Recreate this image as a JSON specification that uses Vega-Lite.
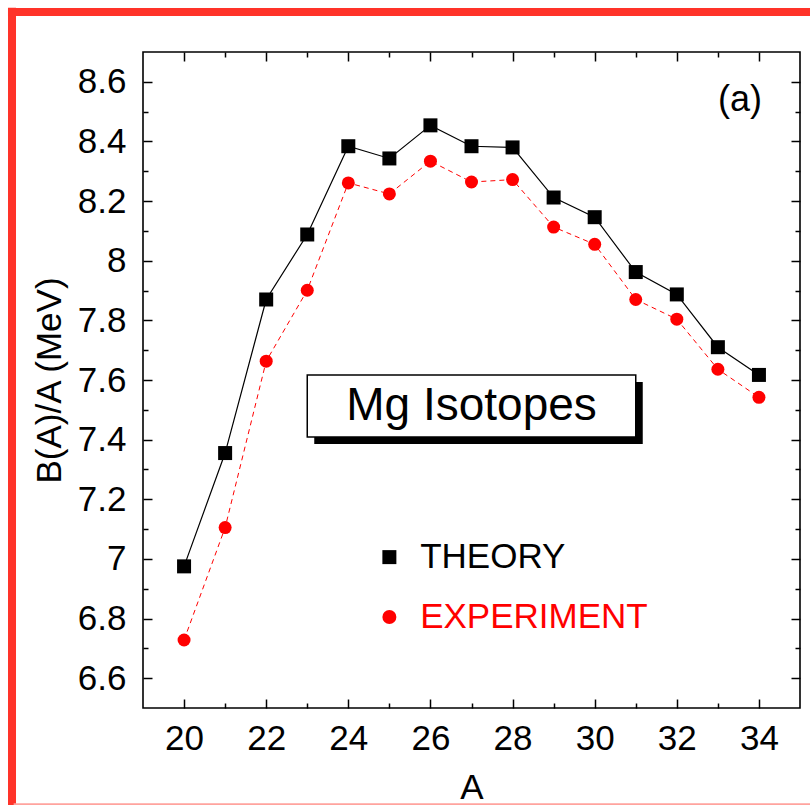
{
  "$schema": "https://vega.github.io/schema/vega-lite/v6.json",
  "width": 657,
  "height": 656,
  "autosize": {"type": "none"},
  "padding": {"left": 143, "top": 52, "right": 10, "bottom": 97},
  "background": "white",
  "config": {
    "view": {"stroke": "black", "strokeWidth": 1.6},
    "font": "Liberation Sans",
    "axis": {
      "domain": false,
      "grid": false,
      "tickColor": "black",
      "tickWidth": 1.5,
      "labelFont": "Liberation Sans",
      "labelFontSize": 35,
      "labelColor": "black",
      "titleFont": "Liberation Sans",
      "titleFontSize": 35,
      "titleFontWeight": "normal",
      "titleColor": "black"
    }
  },
  "data": {
    "values": [
      {"A": 20, "theory": 6.975, "experiment": 6.728},
      {"A": 21, "theory": 7.355, "experiment": 7.105},
      {"A": 22, "theory": 7.870, "experiment": 7.663},
      {"A": 23, "theory": 8.088, "experiment": 7.901},
      {"A": 24, "theory": 8.384, "experiment": 8.261},
      {"A": 25, "theory": 8.343, "experiment": 8.224},
      {"A": 26, "theory": 8.454, "experiment": 8.334},
      {"A": 27, "theory": 8.384, "experiment": 8.264},
      {"A": 28, "theory": 8.380, "experiment": 8.272},
      {"A": 29, "theory": 8.212, "experiment": 8.113},
      {"A": 30, "theory": 8.146, "experiment": 8.055},
      {"A": 31, "theory": 7.962, "experiment": 7.870},
      {"A": 32, "theory": 7.887, "experiment": 7.804},
      {"A": 33, "theory": 7.710, "experiment": 7.636},
      {"A": 34, "theory": 7.617, "experiment": 7.542}
    ]
  },
  "resolve": {
    "scale": {"x": "shared", "y": "shared"},
    "axis": {"x": "independent", "y": "independent"}
  },
  "layer": [
    {
      "mark": {"type": "line", "color": "black", "strokeWidth": 1.2},
      "encoding": {
        "x": {
          "field": "A", "type": "quantitative",
          "scale": {"domain": [19, 35], "nice": false, "zero": false},
          "axis": {"orient": "bottom", "values": [20, 22, 24, 26, 28, 30, 32, 34], "tickSize": -9, "labelPadding": 22, "title": "A", "titlePadding": 14, "format": "~g"}
        },
        "y": {
          "field": "theory", "type": "quantitative",
          "scale": {"domain": [6.5, 8.7], "nice": false, "zero": false},
          "axis": {"orient": "left", "values": [6.6, 6.8, 7, 7.2, 7.4, 7.6, 7.8, 8, 8.2, 8.4, 8.6], "tickSize": -9, "labelPadding": 26, "title": "B(A)/A (MeV)", "titlePadding": 10, "format": "~g"}
        }
      }
    },
    {
      "mark": {"type": "point", "shape": "square", "filled": true, "opacity": 1, "size": 196, "color": "black"},
      "encoding": {
        "x": {
          "field": "A", "type": "quantitative",
          "axis": {"orient": "bottom", "values": [21, 23, 25, 27, 29, 31, 33], "tickSize": -5, "labels": false, "title": null}
        },
        "y": {
          "field": "theory", "type": "quantitative",
          "axis": {"orient": "left", "values": [6.7, 6.9, 7.1, 7.3, 7.5, 7.7, 7.9, 8.1, 8.3, 8.5], "tickSize": -5, "labels": false, "title": null}
        }
      }
    },
    {
      "mark": {"type": "line", "color": "#ff0000", "strokeWidth": 1, "strokeDash": [5, 4]},
      "encoding": {
        "x": {
          "field": "A", "type": "quantitative",
          "axis": {"orient": "top", "values": [20, 22, 24, 26, 28, 30, 32, 34], "tickSize": -9, "labels": false, "title": null}
        },
        "y": {
          "field": "experiment", "type": "quantitative",
          "axis": {"orient": "right", "values": [6.6, 6.8, 7, 7.2, 7.4, 7.6, 7.8, 8, 8.2, 8.4, 8.6], "tickSize": -9, "labels": false, "title": null}
        }
      }
    },
    {
      "mark": {"type": "point", "shape": "circle", "filled": true, "opacity": 1, "size": 169, "color": "#ff0000"},
      "encoding": {
        "x": {
          "field": "A", "type": "quantitative",
          "axis": {"orient": "top", "values": [21, 23, 25, 27, 29, 31, 33], "tickSize": -5, "labels": false, "title": null}
        },
        "y": {
          "field": "experiment", "type": "quantitative",
          "axis": {"orient": "right", "values": [6.7, 6.9, 7.1, 7.3, 7.5, 7.7, 7.9, 8.1, 8.3, 8.5], "tickSize": -5, "labels": false, "title": null}
        }
      }
    },
    {
      "data": {"values": [{}]},
      "mark": {"type": "rect", "fill": "black", "xOffset": 7, "x2Offset": 7, "yOffset": 7, "y2Offset": 7},
      "encoding": {
        "x": {"datum": 23.0, "type": "quantitative", "axis": null},
        "x2": {"datum": 31.0},
        "y": {"datum": 7.617, "type": "quantitative", "axis": null},
        "y2": {"datum": 7.409}
      }
    },
    {
      "data": {"values": [{}]},
      "mark": {"type": "rect", "fill": "white", "stroke": "black", "strokeWidth": 1.5},
      "encoding": {
        "x": {"datum": 23.0, "type": "quantitative", "axis": null},
        "x2": {"datum": 31.0},
        "y": {"datum": 7.617, "type": "quantitative", "axis": null},
        "y2": {"datum": 7.409}
      }
    },
    {
      "data": {"values": [{"label": "Mg Isotopes"}]},
      "mark": {"type": "text", "fontSize": 46, "font": "Liberation Sans", "color": "black", "align": "center", "baseline": "middle"},
      "encoding": {
        "x": {"datum": 27.0, "type": "quantitative", "axis": null},
        "y": {"datum": 7.513, "type": "quantitative", "axis": null},
        "text": {"field": "label"}
      }
    },
    {
      "data": {"values": [{"label": "(a)"}]},
      "mark": {"type": "text", "fontSize": 36, "font": "Liberation Sans", "color": "black", "align": "center", "baseline": "middle"},
      "encoding": {
        "x": {"datum": 33.54, "type": "quantitative", "axis": null},
        "y": {"datum": 8.539, "type": "quantitative", "axis": null},
        "text": {"field": "label"}
      }
    },
    {
      "data": {"values": [{}]},
      "mark": {"type": "point", "shape": "square", "filled": true, "opacity": 1, "size": 196, "color": "black"},
      "encoding": {
        "x": {"datum": 25.0, "type": "quantitative", "axis": null},
        "y": {"datum": 7.006, "type": "quantitative", "axis": null}
      }
    },
    {
      "data": {"values": [{}]},
      "mark": {"type": "point", "shape": "circle", "filled": true, "opacity": 1, "size": 196, "color": "#ff0000"},
      "encoding": {
        "x": {"datum": 25.0, "type": "quantitative", "axis": null},
        "y": {"datum": 6.805, "type": "quantitative", "axis": null}
      }
    },
    {
      "data": {"values": [{"label": "THEORY"}]},
      "mark": {"type": "text", "fontSize": 35, "font": "Liberation Sans", "color": "black", "align": "left", "baseline": "middle"},
      "encoding": {
        "x": {"datum": 25.75, "type": "quantitative", "axis": null},
        "y": {"datum": 7.006, "type": "quantitative", "axis": null},
        "text": {"field": "label"}
      }
    },
    {
      "data": {"values": [{"label": "EXPERIMENT"}]},
      "mark": {"type": "text", "fontSize": 35, "font": "Liberation Sans", "color": "#ff0000", "align": "left", "baseline": "middle"},
      "encoding": {
        "x": {"datum": 25.75, "type": "quantitative", "axis": null},
        "y": {"datum": 6.805, "type": "quantitative", "axis": null},
        "text": {"field": "label"}
      }
    },
    {
      "data": {"values": [{}]},
      "mark": {"type": "rule", "color": "#ff3329", "strokeWidth": 8},
      "encoding": {
        "x": {"datum": 15.81, "type": "quantitative", "axis": null},
        "y": {"datum": 8.848, "type": "quantitative", "axis": null},
        "y2": {"datum": 6.17}
      }
    },
    {
      "data": {"values": [{}]},
      "mark": {"type": "rule", "color": "#ff3329", "strokeWidth": 8},
      "encoding": {
        "x": {"datum": 15.712, "type": "quantitative", "axis": null},
        "x2": {"datum": 35.3},
        "y": {"datum": 8.834, "type": "quantitative", "axis": null}
      }
    },
    {
      "data": {"values": [{}]},
      "mark": {"type": "rule", "color": "#ffa39e", "strokeWidth": 2},
      "encoding": {
        "x": {"datum": 15.85, "type": "quantitative", "axis": null},
        "x2": {"datum": 35.3},
        "y": {"datum": 6.177, "type": "quantitative", "axis": null}
      }
    }
  ]
}
